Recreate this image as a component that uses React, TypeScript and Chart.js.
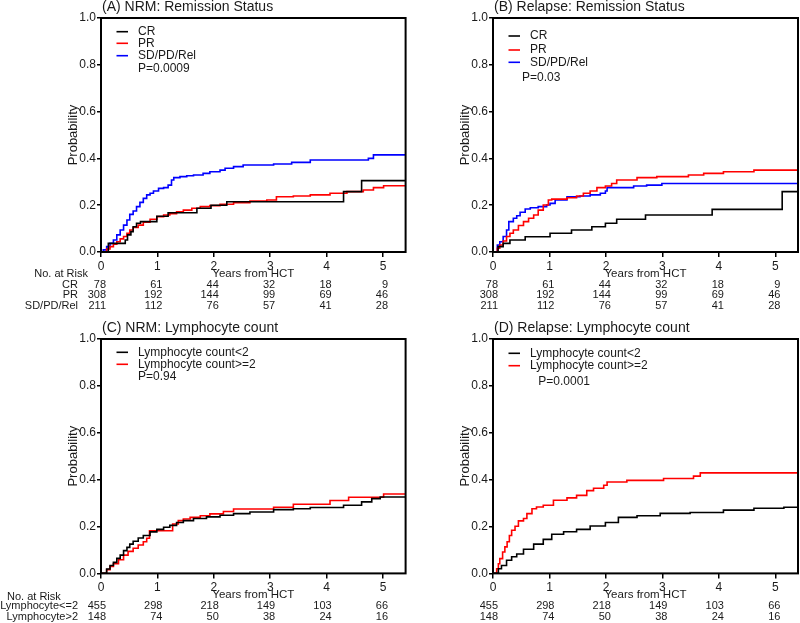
import React, { useEffect, useRef } from "react";
import { Chart, registerables } from "chart.js";
Chart.register(...registerables);

const FONT = '"Liberation Sans", Arial, Helvetica, sans-serif';
const X_MAX = 5.4;
const X_TICK_STEP = 1;
const Y_TICK_STEP = 0.2;
const RISK_TIMES = [0, 1, 2, 3, 4, 5];
const Y_AXIS_W = 45;
const X_AXIS_H = 30;

// ---------- Panel A: NRM by remission status ----------
const A_CR_T = [0, 0.13, 0.43, 0.47, 0.53, 0.57, 0.63, 0.7, 0.99, 1.19, 1.7, 1.95, 2.23, 4.3, 4.62];
const A_CR_V = [0, 0.037, 0.051, 0.073, 0.087, 0.108, 0.123, 0.13, 0.153, 0.168, 0.187, 0.2, 0.215, 0.258, 0.305];
const A_PR_T = [0, 0.1, 0.16, 0.22, 0.28, 0.34, 0.4, 0.46, 0.51, 0.57, 0.66, 0.75, 0.87, 0.99, 1.11, 1.22, 1.34, 1.46, 1.61, 1.76, 1.93, 2.11, 2.35, 2.64, 2.94, 3.11, 3.41, 3.71, 4.06, 4.36, 4.65, 4.83, 5.01];
const A_PR_V = [0, 0.013, 0.023, 0.033, 0.044, 0.056, 0.066, 0.08, 0.094, 0.105, 0.115, 0.127, 0.14, 0.151, 0.158, 0.164, 0.172, 0.179, 0.187, 0.194, 0.198, 0.204, 0.211, 0.218, 0.222, 0.236, 0.239, 0.244, 0.251, 0.258, 0.265, 0.275, 0.283];
const A_SD_T = [0, 0.04, 0.1, 0.16, 0.22, 0.28, 0.34, 0.4, 0.46, 0.51, 0.57, 0.63, 0.69, 0.75, 0.81, 0.87, 0.93, 1.02, 1.11, 1.19, 1.25, 1.29, 1.4, 1.52, 1.64, 1.81, 1.93, 2.11, 2.2, 2.35, 2.52, 3.06, 3.38, 3.71, 4.74, 4.83];
const A_SD_V = [0, 0.009, 0.023, 0.037, 0.051, 0.073, 0.094, 0.115, 0.137, 0.161, 0.175, 0.194, 0.212, 0.229, 0.244, 0.251, 0.261, 0.272, 0.275, 0.286, 0.308, 0.318, 0.322, 0.326, 0.329, 0.336, 0.343, 0.35, 0.358, 0.365, 0.372, 0.376, 0.383, 0.393, 0.4, 0.415];

// ---------- Panel B: Relapse by remission status ----------
const B_CR_T = [0, 0.09, 0.18, 0.3, 0.57, 1.01, 1.39, 1.75, 1.99, 2.19, 2.7, 3.88, 5.12];
const B_CR_V = [0, 0.023, 0.037, 0.051, 0.065, 0.08, 0.094, 0.108, 0.123, 0.14, 0.158, 0.182, 0.258];
const B_PR_T = [0, 0.077, 0.12, 0.18, 0.24, 0.3, 0.36, 0.45, 0.54, 0.63, 0.72, 0.8, 0.89, 0.98, 1.04, 1.31, 1.48, 1.6, 1.72, 1.84, 1.99, 2.1, 2.19, 2.55, 2.9, 3.46, 3.73, 4.08, 4.62];
const B_PR_V = [0, 0.016, 0.03, 0.047, 0.066, 0.08, 0.094, 0.113, 0.13, 0.144, 0.158, 0.179, 0.201, 0.222, 0.226, 0.232, 0.239, 0.251, 0.261, 0.275, 0.282, 0.293, 0.308, 0.318, 0.322, 0.329, 0.336, 0.343, 0.35];
const B_SD_T = [0, 0.077, 0.12, 0.18, 0.24, 0.28, 0.36, 0.42, 0.48, 0.57, 0.66, 0.8, 0.95, 1.01, 1.1, 1.31, 1.54, 1.72, 1.9, 1.99, 2.02, 2.49, 2.72, 2.99];
const B_SD_V = [0, 0.03, 0.044, 0.066, 0.094, 0.13, 0.144, 0.155, 0.17, 0.184, 0.189, 0.194, 0.201, 0.208, 0.222, 0.236, 0.239, 0.244, 0.251, 0.261, 0.275, 0.282, 0.286, 0.293];

// ---------- Panel C: NRM by lymphocyte count ----------
const C_LO_T = [0, 0.1, 0.16, 0.22, 0.28, 0.34, 0.4, 0.46, 0.51, 0.57, 0.66, 0.75, 0.87, 0.99, 1.11, 1.22, 1.34, 1.46, 1.64, 1.87, 2.11, 2.35, 2.64, 3.06, 3.41, 3.71, 4.3, 4.62, 4.8, 4.95];
const C_LO_V = [0, 0.019, 0.034, 0.047, 0.064, 0.078, 0.097, 0.111, 0.125, 0.137, 0.151, 0.162, 0.177, 0.188, 0.197, 0.205, 0.217, 0.225, 0.234, 0.241, 0.248, 0.255, 0.262, 0.272, 0.276, 0.281, 0.291, 0.305, 0.319, 0.326];
const C_HI_T = [0, 0.1, 0.16, 0.22, 0.31, 0.4, 0.48, 0.57, 0.66, 0.75, 0.81, 0.86, 1.27, 1.37, 1.46, 1.58, 1.76, 1.93, 2.17, 2.35, 3.06, 3.41, 4.06, 4.39, 5.01];
const C_HI_V = [0, 0.016, 0.03, 0.041, 0.058, 0.078, 0.094, 0.107, 0.121, 0.135, 0.15, 0.182, 0.211, 0.225, 0.232, 0.239, 0.246, 0.254, 0.264, 0.275, 0.282, 0.295, 0.311, 0.325, 0.339];

// ---------- Panel D: Relapse by lymphocyte count ----------
const D_LO_T = [0, 0.095, 0.15, 0.24, 0.33, 0.42, 0.54, 0.72, 0.89, 1.04, 1.25, 1.48, 1.72, 1.99, 2.22, 2.55, 2.96, 3.49, 4.08, 4.62, 5.15];
const D_LO_V = [0, 0.02, 0.034, 0.056, 0.071, 0.083, 0.103, 0.125, 0.145, 0.167, 0.178, 0.188, 0.202, 0.217, 0.239, 0.246, 0.256, 0.26, 0.27, 0.278, 0.282];
const D_HI_T = [0, 0.065, 0.095, 0.12, 0.17, 0.21, 0.25, 0.29, 0.33, 0.39, 0.45, 0.54, 0.6, 0.69, 0.77, 0.89, 1.07, 1.31, 1.48, 1.66, 1.78, 1.96, 2.02, 2.37, 3.02, 3.55, 3.67];
const D_HI_V = [0, 0.02, 0.041, 0.063, 0.091, 0.113, 0.135, 0.162, 0.184, 0.201, 0.224, 0.234, 0.255, 0.276, 0.283, 0.291, 0.312, 0.322, 0.333, 0.353, 0.363, 0.376, 0.39, 0.397, 0.405, 0.415, 0.429];

// ---------- Numbers at risk ----------
const RISK_STATUS_LABELS = ["CR", "PR", "SD/PD/Rel"];
const RISK_CR = [78, 61, 44, 32, 18, 9];
const RISK_PR = [308, 192, 144, 99, 69, 46];
const RISK_SD = [211, 112, 76, 57, 41, 28];
const RISK_LYMPH_LABELS = ["Lymphocyte<=2", "Lymphocyte>2"];
const RISK_LYMPH_LO = [455, 298, 218, 149, 103, 66];
const RISK_LYMPH_HI = [148, 74, 50, 38, 24, 16];

const BLACK = "#000000";
const RED = "#ff0000";
const BLUE = "#0000ff";
const TEXT = "#1a1a1a";

interface Series { label: string; color: string; t: number[]; v: number[] }
interface Panel {
  title: string;
  series: Series[];
  pText: string;
  left: number; top: number; width: number; height: number;
  pad: { left: number; top: number; right: number; bottom: number };
  legendRows: number[];
  pPos: [number, number];
  riskLabels: string[] | null;
  riskRows: number[][];
  riskY: number[];
  header: null | { x: number; y: number; align: CanvasTextAlign };
}

const statusSeries = (cr: [number[], number[]], pr: [number[], number[]], sd: [number[], number[]]): Series[] => [
  { label: "CR", color: BLACK, t: cr[0], v: cr[1] },
  { label: "PR", color: RED, t: pr[0], v: pr[1] },
  { label: "SD/PD/Rel", color: BLUE, t: sd[0], v: sd[1] },
];
const lymphSeries = (lo: [number[], number[]], hi: [number[], number[]]): Series[] => [
  { label: "Lymphocyte count<2", color: BLACK, t: lo[0], v: lo[1] },
  { label: "Lymphocyte count>=2", color: RED, t: hi[0], v: hi[1] },
];

const PANELS: Panel[] = [
  {
    title: "(A) NRM: Remission Status",
    series: statusSeries([A_CR_T, A_CR_V], [A_PR_T, A_PR_V], [A_SD_T, A_SD_V]),
    pText: "P=0.0009",
    left: 0, top: 0, width: 420, height: 311,
    pad: { left: 101 - Y_AXIS_W, top: 18, right: 14.4, bottom: 59 - X_AXIS_H },
    legendRows: [13.7, 25.3, 37.7],
    pPos: [37, 50.3],
    riskLabels: RISK_STATUS_LABELS,
    riskRows: [RISK_CR, RISK_PR, RISK_SD],
    riskY: [33, 43.3, 53.5],
    header: { x: 88, y: 22, align: "right" },
  },
  {
    title: "(B) Relapse: Remission Status",
    series: statusSeries([B_CR_T, B_CR_V], [B_PR_T, B_PR_V], [B_SD_T, B_SD_V]),
    pText: "P=0.03",
    left: 420, top: 0, width: 380, height: 311,
    pad: { left: 73 - Y_AXIS_W, top: 18, right: 2, bottom: 59 - X_AXIS_H },
    legendRows: [18, 32, 44.3],
    pPos: [29, 59.7],
    riskLabels: null,
    riskRows: [RISK_CR, RISK_PR, RISK_SD],
    riskY: [33, 43.3, 53.5],
    header: null,
  },
  {
    title: "(C) NRM: Lymphocyte count",
    series: lymphSeries([C_LO_T, C_LO_V], [C_HI_T, C_HI_V]),
    pText: "P=0.94",
    left: 0, top: 311, width: 420, height: 312,
    pad: { left: 101 - Y_AXIS_W, top: 28, right: 14.4, bottom: 49.6 - X_AXIS_H },
    legendRows: [13.3, 25.3],
    pPos: [37, 37.7],
    riskLabels: RISK_LYMPH_LABELS,
    riskRows: [RISK_LYMPH_LO, RISK_LYMPH_HI],
    riskY: [32.4, 43.4],
    header: { x: 7, y: 23.7, align: "left" },
  },
  {
    title: "(D) Relapse: Lymphocyte count",
    series: lymphSeries([D_LO_T, D_LO_V], [D_HI_T, D_HI_V]),
    pText: "P=0.0001",
    left: 420, top: 311, width: 380, height: 312,
    pad: { left: 73 - Y_AXIS_W, top: 28, right: 2, bottom: 49.6 - X_AXIS_H },
    legendRows: [14.3, 26.7],
    pPos: [45.3, 42.7],
    riskLabels: null,
    riskRows: [RISK_LYMPH_LO, RISK_LYMPH_HI],
    riskY: [32.4, 43.4],
    header: null,
  },
];

function makeDecorPlugin(p: Panel) {
  return {
    id: "decor",
    afterDraw(chart: any) {
      const ctx: CanvasRenderingContext2D = chart.ctx;
      const ca = chart.chartArea;
      const xs = chart.scales.x;
      ctx.save();
      // frame
      ctx.strokeStyle = "#000";
      ctx.lineWidth = 2;
      ctx.strokeRect(ca.left, ca.top, ca.right - ca.left, ca.bottom - ca.top);
      ctx.fillStyle = TEXT;
      // title
      ctx.font = `14px ${FONT}`;
      ctx.textAlign = "left";
      ctx.textBaseline = "alphabetic";
      ctx.fillText(p.title, ca.left + 1, ca.top - 7.5);
      // y title
      ctx.save();
      ctx.translate(ca.left - 27.5, (ca.top + ca.bottom) / 2);
      ctx.rotate(-Math.PI / 2);
      ctx.font = `13px ${FONT}`;
      ctx.textAlign = "center";
      ctx.textBaseline = "middle";
      ctx.fillText("Probability", 0, 0);
      ctx.restore();
      // x title
      ctx.font = `11.5px ${FONT}`;
      ctx.textAlign = "center";
      ctx.textBaseline = "middle";
      ctx.fillText("Years from HCT", (ca.left + ca.right) / 2, ca.bottom + 21.5);
      // legend
      ctx.font = `12px ${FONT}`;
      ctx.textAlign = "left";
      p.series.forEach((s, i) => {
        const y = ca.top + p.legendRows[i];
        ctx.strokeStyle = s.color;
        ctx.lineWidth = 1.6;
        ctx.beginPath();
        ctx.moveTo(ca.left + 15.5, y);
        ctx.lineTo(ca.left + 27, y);
        ctx.stroke();
        ctx.fillStyle = TEXT;
        ctx.fillText(s.label, ca.left + 37, y);
      });
      ctx.fillText(p.pText, ca.left + p.pPos[0], ca.top + p.pPos[1]);
      // numbers at risk
      ctx.font = `11px ${FONT}`;
      if (p.header) {
        ctx.textAlign = p.header.align;
        ctx.fillText("No. at Risk", p.header.x, ca.bottom + p.header.y);
      }
      p.riskRows.forEach((row, r) => {
        const y = ca.bottom + p.riskY[r];
        if (p.riskLabels) {
          ctx.textAlign = "right";
          ctx.fillText(p.riskLabels[r], 78, y);
        }
        ctx.textAlign = "right";
        row.forEach((n, k) => {
          ctx.fillText(String(n), xs.getPixelForValue(RISK_TIMES[k]) + 5, y);
        });
      });
      ctx.restore();
    },
  };
}

function PanelChart({ p }: { p: Panel }) {
  const ref = useRef<HTMLCanvasElement | null>(null);
  useEffect(() => {
    if (!ref.current) return;
    const datasets = p.series.map((s) => {
      const pts = s.t.map((t, i) => ({ x: t, y: s.v[i] }));
      pts.push({ x: X_MAX, y: s.v[s.v.length - 1] });
      return {
        label: s.label,
        data: pts,
        borderColor: s.color,
        backgroundColor: s.color,
        borderWidth: 1.6,
        pointRadius: 0,
        stepped: "before" as const,
        fill: false,
      };
    });
    const tickFont = { family: FONT, size: 12 };
    const chart = new Chart(ref.current, {
      type: "line",
      data: { datasets },
      options: {
        animation: false,
        responsive: false,
        devicePixelRatio: 1,
        layout: { padding: p.pad },
        plugins: { legend: { display: false }, tooltip: { enabled: false }, title: { display: false } },
        scales: {
          x: {
            type: "linear",
            min: 0,
            max: X_MAX,
            afterFit: (s: any) => { s.height = X_AXIS_H; },
            border: { display: false },
            grid: { drawOnChartArea: false, drawTicks: true, tickLength: 5, color: "#000", lineWidth: 1.5 },
            ticks: {
              stepSize: X_TICK_STEP,
              includeBounds: false,
              autoSkip: false,
              maxRotation: 0,
              padding: 2,
              color: TEXT,
              font: tickFont,
              callback: (v: any) => String(v),
            },
          },
          y: {
            type: "linear",
            min: 0,
            max: 1,
            afterFit: (s: any) => { s.width = Y_AXIS_W; },
            border: { display: false },
            grid: { drawOnChartArea: false, drawTicks: true, tickLength: 4, color: "#000", lineWidth: 1.5 },
            ticks: {
              stepSize: Y_TICK_STEP,
              padding: 1,
              color: TEXT,
              font: tickFont,
              callback: (v: any) => Number(v).toFixed(1),
            },
          },
        },
      },
      plugins: [makeDecorPlugin(p)],
    } as any);
    return () => chart.destroy();
  }, [p]);
  return (
    <canvas
      ref={ref}
      width={p.width}
      height={p.height}
      style={{ position: "absolute", left: p.left, top: p.top, width: p.width, height: p.height }}
    />
  );
}

export default function App() {
  return (
    <div style={{ position: "fixed", left: 0, top: 0, width: 800, height: 623, background: "#fff", overflow: "hidden" }}>
      {PANELS.map((p) => (
        <PanelChart key={p.title} p={p} />
      ))}
    </div>
  );
}
